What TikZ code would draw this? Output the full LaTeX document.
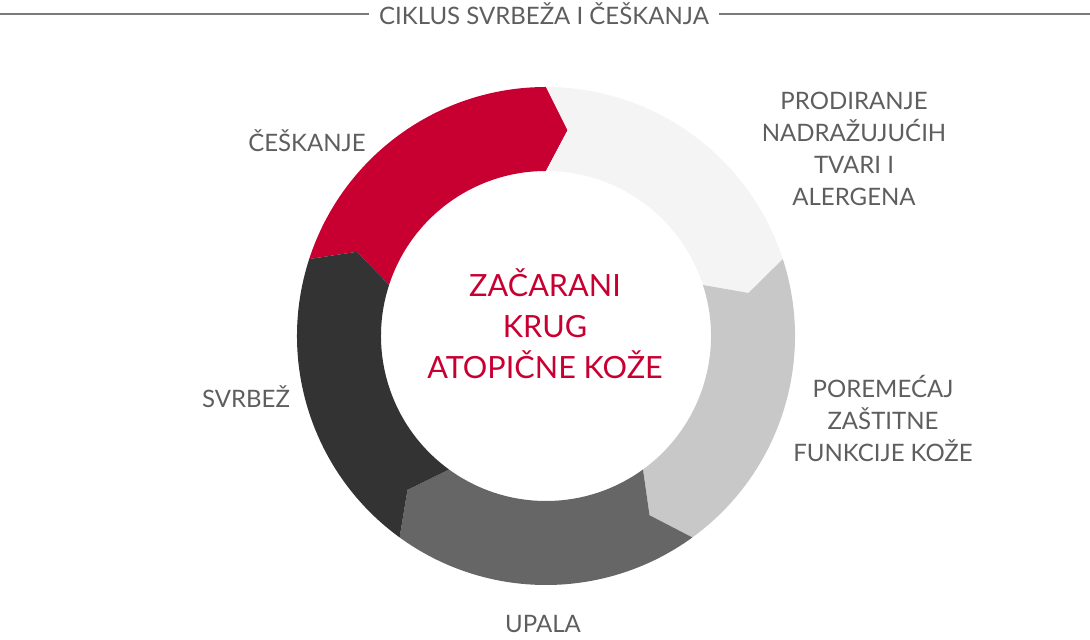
\documentclass[tikz,border=0pt]{standalone}
\usepackage{fontspec}
\setmainfont{Lato}
\definecolor{ringred}{HTML}{C80032}
\definecolor{ringpale}{HTML}{F4F4F4}
\definecolor{ringlight}{HTML}{C8C8C8}
\definecolor{ringmid}{HTML}{666666}
\definecolor{ringdark}{HTML}{333333}
\definecolor{labelgray}{HTML}{5E5E5E}
\definecolor{rulegray}{HTML}{7A7A7A}

\begin{document}
\begin{tikzpicture}
    [x=0.5pt,y=0.5pt,every node/.style={inner sep=0pt,anchor=base,align=center,
      text=labelgray,font=\fontsize{12}{16}\selectfont}]
    \useasboundingbox (-546,-304) rectangle (544,336);
    \foreach \a/\c in {162/ringred,90/ringpale,18/ringlight,-54/ringmid,-126/ringdark}
      \fill[\c] (\a:249) arc[start angle=\a,end angle=\a-72,radius=249] -- (\a-78:207)
        -- (\a-72:165) arc[start angle=\a-72,end angle=\a,radius=165] -- (\a-6:207) -- cycle;
    \node[text=ringred,font=\fontsize{15.3}{20.5}\selectfont] (krug) at (-1,-43)
      {ZAČARANI\\KRUG\\ATOPIČNE KOŽE};
    \node[inner xsep=5pt] (ciklus) at (-2,311) {CIKLUS SVRBEŽA I ČEŠKANJA};
    \node (ceskanje) at (-239,184) {ČEŠKANJE};
    \node (prodiranje) at (308,130) {PRODIRANJE\\NADRAŽUJUĆIH\\TVARI I\\ALERGENA};
    \node (poremecaj) at (337,-126) {POREMEĆAJ\\ZAŠTITNE\\FUNKCIJE KOŽE};
    \node (upala) at (-3,-297) {UPALA};
    \node (svrbez) at (-300,-72) {SVRBEŽ};
    \coordinate (rl) at (-546,322);
    \coordinate (rr) at (544,322);
    \draw[rulegray,line width=1pt] (rl) -- (ciklus.west |- rl);
    \draw[rulegray,line width=1pt] (ciklus.east |- rr) -- (rr);
  \end{tikzpicture}
\end{document}
